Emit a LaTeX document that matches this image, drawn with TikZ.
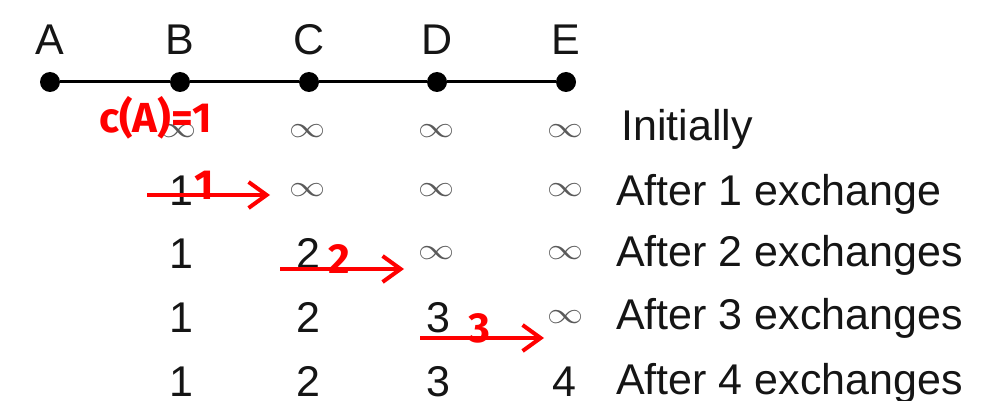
\documentclass[tikz,border=0pt]{standalone}
\usepackage{fontspec}
\setmainfont{Liberation Sans}
\newfontfamily\handfont{Fira Sans}
\usetikzlibrary{arrows.meta}
\definecolor{ink}{HTML}{151515}
\definecolor{inf}{HTML}{5A5A5A}
\definecolor{pen}{HTML}{FF0000}
\tikzset{
  lbl/.style={inner sep=0pt, anchor=base, text=ink, font=\fontsize{43}{43}\selectfont},
  rowlbl/.style={inner sep=0pt, anchor=base west, text=ink, font=\fontsize{43}{43}\selectfont},
  dotnode/.style={circle, fill=black, inner sep=0pt, minimum size=20pt},
  infnode/.style={inner sep=0pt, text=inf, font=\fontsize{24}{24}\selectfont},
  hand/.style={inner sep=0pt, text=pen, font=\handfont\bfseries\fontsize{42}{42}\selectfont},
  redarrow/.style={draw=pen, line width=4pt, -{Straight Barb[length=18pt,width=26pt,line width=4pt]}},
  edge/.style={draw=black, line width=3pt}
}
\newcommand{\infsym}{\scalebox{1.45}[1.2]{$\infty$}}
\begin{document}
\begin{tikzpicture}[x=1pt,y=-1pt]
\useasboundingbox[fill=white] (0,0) rectangle (985,401);
% column letters
\foreach \n/\x in {A/50,B/180,C/309,D/437,E/566}{
  \node[lbl] (l\n) at (\x,55) {\n};
  \node[dotnode] (d\n) at (\x,82) {};
}
\draw[edge] (dA) -- (dB) -- (dC) -- (dD) -- (dE);
% row labels
\node[rowlbl] (r0) at (621,140) {Initially};
\node[rowlbl] (r1) at (616,205) {After 1 exchange};
\node[rowlbl] (r2) at (616,266) {After 2 exchanges};
\node[rowlbl] (r3) at (616,329) {After 3 exchanges};
\node[rowlbl] (r4) at (616,394) {After 4 exchanges};
% row 0
\node[infnode] (c0B) at (179,131) {\infsym};
\node[infnode] (c0C) at (308,131) {\infsym};
\node[infnode] (c0D) at (437,131) {\infsym};
\node[infnode] (c0E) at (566,131) {\infsym};
% row 1
\node[lbl] (c1B) at (181,205) {1};
\node[infnode] (c1C) at (308,190) {\infsym};
\node[infnode] (c1D) at (437,190) {\infsym};
\node[infnode] (c1E) at (566,190) {\infsym};
% row 2
\node[lbl] (c2B) at (181,268) {1};
\node[lbl] (c2C) at (308,268) {2};
\node[infnode] (c2D) at (437,253) {\infsym};
\node[infnode] (c2E) at (566,253) {\infsym};
% row 3
\node[lbl] (c3B) at (181,332) {1};
\node[lbl] (c3C) at (308,332) {2};
\node[lbl] (c3D) at (438,332) {3};
\node[infnode] (c3E) at (566,317) {\infsym};
% row 4
\node[lbl] (c4B) at (181,396) {1};
\node[lbl] (c4C) at (308,396) {2};
\node[lbl] (c4D) at (438,396) {3};
\node[lbl] (c4E) at (564,396) {4};
% red annotations
\node[hand, anchor=base west] (cA) at (99,133) {c(A)=1};
\coordinate (a1s) at (147,195);
\coordinate (a1e) at (270,195);
\coordinate (a2s) at (280,269);
\coordinate (a2e) at (404,269);
\coordinate (a3s) at (420,338);
\coordinate (a3e) at (544,338);
\draw[redarrow] (a1s) -- (a1e);
\draw[redarrow] (a2s) -- (a2e);
\draw[redarrow] (a3s) -- (a3e);
\node[hand] (n1) at (204,185) {1};
\node[hand] (n2) at (339,259) {2};
\node[hand] (n3) at (479,328) {3};
\end{tikzpicture}
\end{document}
